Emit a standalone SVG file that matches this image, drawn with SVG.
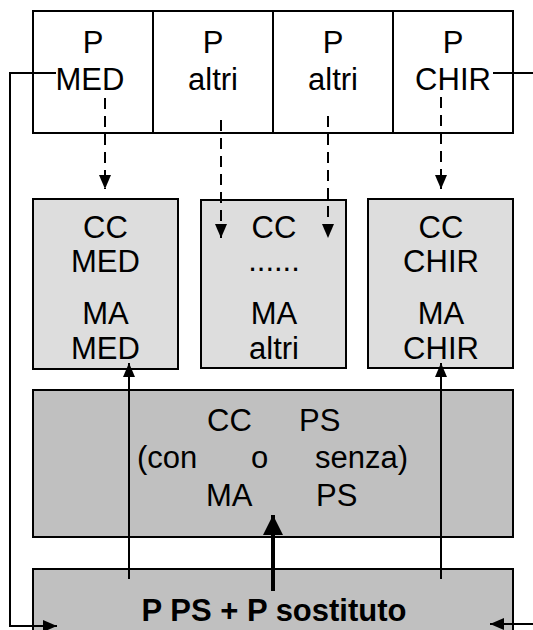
<svg xmlns="http://www.w3.org/2000/svg" width="533" height="630" viewBox="0 0 533 630">
  <style>
    .box { stroke: #000; stroke-width: 2; }
    .top { fill: #fff; }
    .mid { fill: #dddddd; }
    .dark { fill: #c0c0c0; }
    .t { font-family: "Liberation Sans", Arial, sans-serif; font-size: 31px; fill: #000; }
    .c { text-anchor: middle; }
    .b { font-weight: bold; }
    .line { stroke: #000; stroke-width: 2; fill: none; }
    .dash { stroke-dasharray: 11 7; }
    .thick { stroke-width: 4; }
  </style>
  <defs>
    <marker id="head" viewBox="0 0 14 12" markerWidth="14" markerHeight="12" refX="14" refY="6" orient="auto" markerUnits="userSpaceOnUse">
      <path d="M0,0 L14,6 L0,12 z" fill="#000"/>
    </marker>
    <marker id="headBig" viewBox="0 0 20 20" markerWidth="20" markerHeight="20" refX="20" refY="10" orient="auto" markerUnits="userSpaceOnUse">
      <path d="M0,0 L20,10 L0,20 z" fill="#000"/>
    </marker>
  </defs>

  <!-- bottom row: substitute staff -->
  <g id="p-ps-sostituto">
    <rect class="box dark" x="33" y="569" width="480" height="70"/>
    <text class="t c b" x="274" y="621">P PS + P sostituto</text>
  </g>

  <!-- shared block -->
  <g id="cc-ps">
    <rect class="box dark" x="33" y="390" width="480" height="147"/>
    <text class="t" x="207" y="431">CC</text>
    <text class="t" x="299" y="431">PS</text>
    <text class="t" x="137" y="468">(con</text>
    <text class="t" x="251" y="468">o</text>
    <text class="t" x="315" y="468">senza)</text>
    <text class="t" x="206" y="506">MA</text>
    <text class="t" x="316" y="506">PS</text>
  </g>

  <!-- middle row -->
  <g id="cc-med">
    <rect class="box mid" x="33" y="199" width="145" height="170"/>
    <text class="t c" x="105.5" y="238">CC</text>
    <text class="t c" x="105.5" y="272">MED</text>
    <text class="t c" x="105.5" y="324">MA</text>
    <text class="t c" x="105.5" y="359">MED</text>
  </g>
  <g id="cc-altri">
    <rect class="box mid" x="201" y="200" width="145" height="168"/>
    <text class="t c" x="274" y="238">CC</text>
    <text class="t c" x="274" y="271">......</text>
    <text class="t c" x="274" y="324">MA</text>
    <text class="t c" x="274" y="359">altri</text>
  </g>
  <g id="cc-chir">
    <rect class="box mid" x="368" y="199" width="145" height="169"/>
    <text class="t c" x="441" y="238">CC</text>
    <text class="t c" x="441" y="272">CHIR</text>
    <text class="t c" x="441" y="324">MA</text>
    <text class="t c" x="441" y="359">CHIR</text>
  </g>

  <!-- top row -->
  <g id="p-med">
    <rect class="box top" x="33" y="11" width="120" height="122"/>
    <text class="t c" x="93" y="53">P</text>
    <text class="t c" x="90" y="90">MED</text>
  </g>
  <g id="p-altri-1">
    <rect class="box top" x="153" y="11" width="120" height="122"/>
    <text class="t c" x="213" y="53">P</text>
    <text class="t c" x="213" y="90">altri</text>
  </g>
  <g id="p-altri-2">
    <rect class="box top" x="273" y="11" width="120" height="122"/>
    <text class="t c" x="333" y="53">P</text>
    <text class="t c" x="333" y="90">altri</text>
  </g>
  <g id="p-chir">
    <rect class="box top" x="393" y="11" width="120" height="122"/>
    <text class="t c" x="453" y="53">P</text>
    <text class="t c" x="453" y="90">CHIR</text>
  </g>

  <g id="connectors">
    <!-- dashed: top staff to their units -->
    <line class="line dash" x1="105" y1="98" x2="105" y2="189" marker-end="url(#head)"/>
    <line class="line dash" x1="221" y1="120" x2="221" y2="238" marker-end="url(#head)"/>
    <line class="line dash" x1="328" y1="116" x2="328" y2="238" marker-end="url(#head)"/>
    <line class="line dash" x1="441" y1="97" x2="441" y2="189" marker-end="url(#head)"/>
    <!-- substitute staff up to the units -->
    <line class="line" x1="129" y1="579" x2="129" y2="363" marker-end="url(#head)"/>
    <line class="line" x1="441" y1="579" x2="441" y2="363" marker-end="url(#head)"/>
    <line class="line thick" x1="273" y1="591" x2="273" y2="515" marker-end="url(#headBig)"/>
    <!-- outer loops from MED and CHIR back into the bottom row -->
    <polyline class="line" points="56,73 10,73 10,626 57,626" marker-end="url(#head)"/>
    <polyline class="line" points="493,73 540,73 540,624 490,624" marker-end="url(#head)"/>
  </g>
</svg>
